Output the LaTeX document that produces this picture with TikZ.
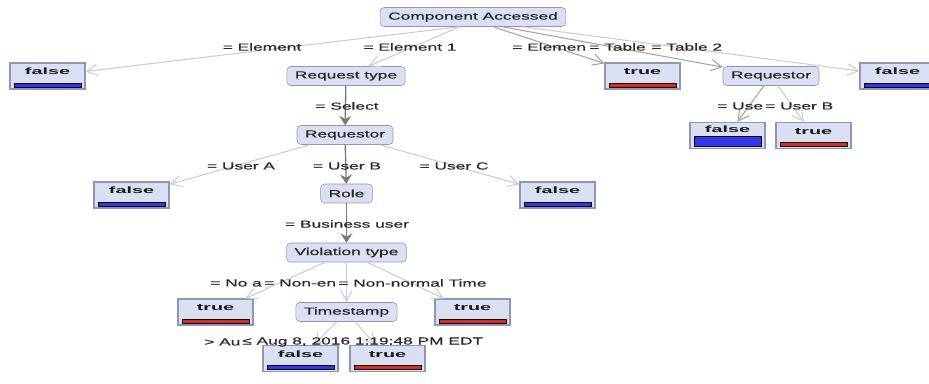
\documentclass[tikz,border=0pt]{standalone}
\usepackage{fontspec}
\newfontfamily\diagfont[FakeStretch=1.7, FakeBold=0.5]{Liberation Sans}
\newfontfamily\leaffont[FakeStretch=2.15]{Liberation Sans}
\usepackage{xcolor}
\usetikzlibrary{arrows.meta}
\definecolor{nodefill}{RGB}{218,224,242}
\definecolor{nodeline}{RGB}{140,150,185}
\definecolor{falseblue}{RGB}{50,55,235}
\definecolor{truered}{RGB}{225,40,40}
\definecolor{lightedge}{RGB}{205,205,205}
\definecolor{midedge}{RGB}{165,165,165}
\definecolor{darkedge}{RGB}{120,120,120}
\definecolor{condtext}{RGB}{45,40,40}
\newcommand{\nodefont}{\diagfont\fontsize{7.65pt}{9pt}\selectfont}
\newcommand{\leaflabelfont}{\leaffont\bfseries\fontsize{6.9pt}{8pt}\selectfont}
\tikzset{
    split/.style={
        draw=nodeline,
        fill=nodefill,
        rounded corners=3pt,
        minimum height=14.25pt,
        inner xsep=6pt,
        inner ysep=0pt,
        text=black!85,
        font=\nodefont,
    },
    % Leaf box, bar colour and bar height
    leaf/.style 2 args={
        draw=nodeline,
        fill=nodefill,
        line width=0.8pt,
        minimum width=56.25pt,
        inner sep=0pt,
        text height=9pt,
        text depth=10.5pt,
        text=black!90,
        font=\leaflabelfont,
        path picture={
            \draw[black, fill=#1, line width=0.6pt]
              ([xshift=3pt, yshift=1.5pt]path picture bounding box.south west)
              rectangle ([xshift=-3pt, yshift=#2]path picture bounding box.south east);
        }
    },
    falseleaf/.style={leaf={falseblue}{4.5pt}},
    trueleaf/.style={leaf={truered}{4.5pt}},
    cond/.style={font=\nodefont, text=condtext, inner sep=0pt},
    branch/.style={draw=lightedge, line width=0.8pt,
        -{Straight Barb[length=8pt, width=8.5pt, line width=0.8pt]}},
    midbranch/.style={branch, draw=midedge},
    mainbranch/.style={draw=darkedge, line width=1pt,
        -{Stealth[length=7pt, width=9pt, inset=2.5pt]}},
}

\begin{document}
\begin{tikzpicture}[x=0.75pt, y=-0.75pt]
    \useasboundingbox (0,0) rectangle (929,384);
    \clip (0,0) rectangle (929,384);

    % Root and first level
    \node[split] (ca) at (473,17) {Component Accessed};
    \node[falseleaf] (f1) at (47.5,76) {false};
    \node[split] (rt) at (346,76) {Request type};
    \node[trueleaf] (t1) at (642.5,76) {true};
    \node[split] (rq2) at (771,76) {Requestor};
    \node[falseleaf] (f2) at (897.5,76) {false};

    % Right requestor
    \node[leaf={falseblue}{9pt}, text height=7.6pt, text depth=11.9pt] (f3) at (727.5,135.5) {false};
    \node[trueleaf] (t2) at (813.5,135.5) {true};

    % Middle column
    \node[split] (rq) at (345,135) {Requestor};
    \node[falseleaf] (f4) at (131.5,195) {false};
    \node[split] (role) at (346.5,193.5) {Role};
    \node[falseleaf] (f5) at (557.5,195) {false};
    \node[split] (vt) at (346.5,252.5) {Violation type};
    \node[trueleaf] (t3) at (215.5,312) {true};
    \node[split] (ts) at (346.5,312) {Timestamp};
    \node[trueleaf] (t4) at (472.5,312) {true};
    \node[falseleaf] (f6) at (300.5,358.5) {false};
    \node[trueleaf] (t5) at (387.5,358.5) {true};

    % Branches
    \draw[branch] ([xshift=-10pt]ca.south) -- (f1);
    \draw[branch] ([xshift=-10pt]ca.south) -- (rt);
    \draw[midbranch] ([xshift=15pt]ca.south) -- (t1);
    \draw[midbranch] ([xshift=22pt]ca.south) -- (rq2);
    \draw[branch] ([xshift=37pt]ca.south) -- (f2);
    \draw[mainbranch] (rt) -- (rq);
    \draw[midbranch] (rq2) -- (f3);
    \draw[branch] (rq2) -- (t2);
    \draw[branch] (rq) -- (f4);
    \draw[mainbranch] (rq) -- (role);
    \draw[branch] (rq) -- (f5);
    \draw[mainbranch] (role) -- (vt);
    \draw[branch] (vt) -- (t3);
    \draw[branch] (vt) -- (ts);
    \draw[branch] (vt) -- (t4);
    \draw[branch] (ts) -- (f6);
    \draw[branch] (ts) -- (t5);

    % Branch conditions
    \node[cond] (cElem) at (262,47) {= Element};
    \node[cond] (cElemOne) at (410,47) {= Element 1};
    \node[cond, anchor=west] (cElemCut) at (512,47) {= Elemen};
    \node[cond, anchor=west] (cTab) at (589,47) {= Table};
    \node[cond, anchor=west] (cTabTwo) at (651,47) {= Table 2};
    \node[cond] (cSel) at (347,106) {= Select};
    \node[cond, anchor=west] (cUse) at (717,106) {= Use};
    \node[cond, anchor=west] (cUserBr) at (765,106) {= User B};
    \node[cond] (cUserA) at (241,166) {= User A};
    \node[cond] (cUserB) at (347,166) {= User B};
    \node[cond] (cUserC) at (454,166) {= User C};
    \node[cond] (cBus) at (347,224) {= Business user};
    \node[cond, anchor=west] (cNoa) at (210,283) {= No a};
    \node[cond, anchor=west] (cNonen) at (264,283) {= Non-en};
    \node[cond, anchor=west] (cNonnorm) at (338,283) {= Non-normal Time};
    \node[cond, anchor=west] (cAu) at (204,342) {> Au};
    \node[cond, anchor=west] (cLeq) at (242,342) {≤ Aug 8, 2016 1:19:48 PM EDT};
\end{tikzpicture}
\end{document}
